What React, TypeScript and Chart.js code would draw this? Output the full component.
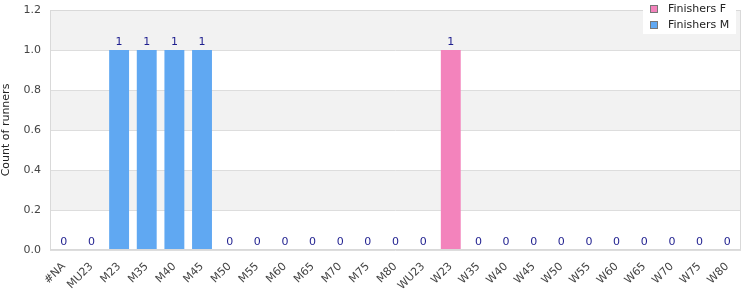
import React, { useEffect, useRef } from "react";
import { Chart, registerables } from "chart.js";

Chart.register(...registerables);

const categories = ["#NA", "MU23", "M23", "M35", "M40", "M45", "M50", "M55", "M60", "M65", "M70", "M75", "M80", "WU23", "W23", "W35", "W40", "W45", "W50", "W55", "W60", "W65", "W70", "W75", "W80"];
const finishersF = [0, 0, 0, 0, 0, 0, 0, 0, 0, 0, 0, 0, 0, 0, 1, 0, 0, 0, 0, 0, 0, 0, 0, 0, 0];
const finishersM = [0, 0, 1, 1, 1, 1, 0, 0, 0, 0, 0, 0, 0, 0, 0, 0, 0, 0, 0, 0, 0, 0, 0, 0, 0];
const yTicks = [0, 0.2, 0.4, 0.6, 0.8, 1.0, 1.2];

const FONT = "'DejaVu Sans', sans-serif";
const PINK = "#f383bc";
const BLUE = "#60a8f2";

const bandsPlugin = {
  id: "bands",
  beforeDraw(chart: any) {
    const { ctx, chartArea, scales } = chart;
    const y = scales.y;
    ctx.save();
    for (let i = 0; i < yTicks.length - 1; i++) {
      const top = y.getPixelForValue(yTicks[i + 1]);
      const bot = y.getPixelForValue(yTicks[i]);
      const fromTop = yTicks.length - 2 - i;
      ctx.fillStyle = fromTop % 2 === 0 ? "#f2f2f2" : "#ffffff";
      ctx.fillRect(chartArea.left, top, chartArea.right - chartArea.left, bot - top);
    }
    ctx.restore();
  },
  afterDraw(chart: any) {
    const { ctx, chartArea, scales } = chart;
    const x = scales.x;
    const y = scales.y;
    ctx.save();
    ctx.strokeStyle = "#d9d9d9";
    ctx.lineWidth = 1;
    ctx.strokeRect(chartArea.left + 0.5, chartArea.top + 0.5, chartArea.right - chartArea.left - 1, chartArea.bottom - chartArea.top - 1);
    ctx.fillStyle = "#1f1f8f";
    ctx.font = "11px " + FONT;
    ctx.textAlign = "center";
    ctx.textBaseline = "bottom";
    categories.forEach((_, i) => {
      const total = finishersF[i] + finishersM[i];
      const px = x.getPixelForValue(i);
      const py = y.getPixelForValue(total);
      ctx.fillText(String(total), px, py - 2);
    });
    const lx = 643, ly = 0, lw = 93, lh = 34;
    ctx.fillStyle = "#ffffff";
    ctx.fillRect(lx, ly, lw, lh);
    const items = [
      { label: "Finishers F", color: PINK },
      { label: "Finishers M", color: BLUE },
    ];
    items.forEach((it, k) => {
      const sy = 5 + k * 16;
      ctx.fillStyle = it.color;
      ctx.fillRect(650, sy, 8, 8);
      ctx.strokeStyle = "#777777";
      ctx.strokeRect(650.5, sy + 0.5, 7, 7);
      ctx.fillStyle = "#222222";
      ctx.font = "11px " + FONT;
      ctx.textAlign = "left";
      ctx.textBaseline = "middle";
      ctx.fillText(it.label, 668, sy + 4);
    });
    ctx.restore();
  },
};

export default function App() {
  const ref = useRef<HTMLCanvasElement>(null);
  useEffect(() => {
    if (!ref.current) return;
    const chart = new Chart(ref.current, {
      type: "bar",
      data: {
        labels: categories,
        datasets: [
          { label: "Finishers F", data: finishersF, backgroundColor: PINK, borderWidth: 0, barPercentage: 0.72, categoryPercentage: 1 },
          { label: "Finishers M", data: finishersM, backgroundColor: BLUE, borderWidth: 0, barPercentage: 0.72, categoryPercentage: 1 },
        ],
      },
      plugins: [bandsPlugin],
      options: {
        animation: false,
        responsive: false,
        maintainAspectRatio: false,
        layout: { padding: { top: 10, right: 9, left: 0, bottom: 0 } },
        plugins: { legend: { display: false }, tooltip: { enabled: false } },
        scales: {
          x: {
            stacked: true,
            grid: { display: false },
            border: { display: false },
            ticks: {
              autoSkip: false,
              maxRotation: 45,
              minRotation: 45,
              color: "#444444",
              font: { family: FONT, size: 11 },
              padding: 2,
            },
            afterFit(scale: any) {
              scale.height = 50;
              scale.paddingLeft = 0;
              scale.paddingRight = 0;
            },
          },
          y: {
            stacked: true,
            min: 0,
            max: 1.2,
            grid: { color: "#dddddd", drawTicks: false },
            border: { display: false },
            ticks: {
              stepSize: 0.2,
              color: "#444444",
              font: { family: FONT, size: 11 },
              padding: 9,
              callback: (v: any) => Number(v).toFixed(1),
            },
            title: {
              display: true,
              text: "Count of runners",
              color: "#222222",
              font: { family: FONT, size: 11 },
              padding: 0,
            },
            afterFit(scale: any) {
              scale.width = 50;
              scale.paddingTop = 0;
              scale.paddingBottom = 0;
            },
          },
        },
      },
    });
    return () => chart.destroy();
  }, []);
  return (
    <div style={{ position: "fixed", left: 0, top: 0, width: 750, height: 300 }}>
      <canvas ref={ref} width={750} height={300} style={{ width: 750, height: 300 }} />
    </div>
  );
}
